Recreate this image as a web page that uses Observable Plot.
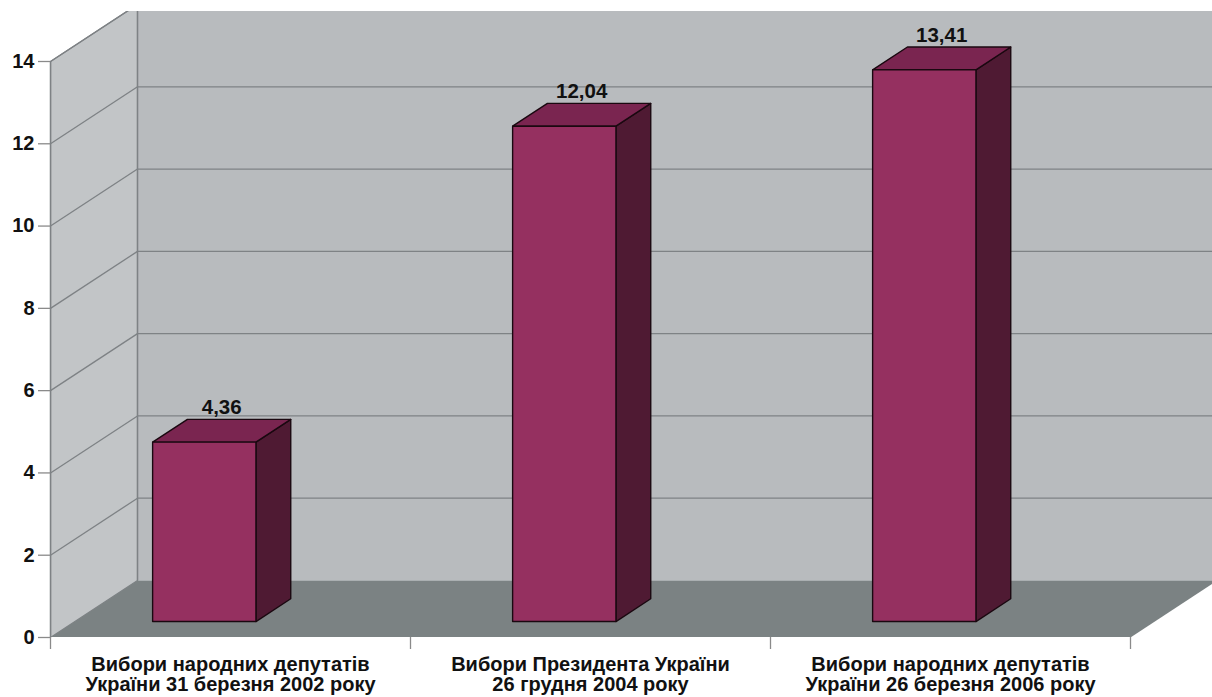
<!DOCTYPE html>
<html>
<head>
<meta charset="utf-8">
<script src="https://cdn.jsdelivr.net/npm/d3@7"></script>
<script src="https://cdn.jsdelivr.net/npm/@observablehq/plot@0.6"></script>
<style>
  html, body { margin: 0; padding: 0; background: #ffffff; }
  #chart svg { display: block; }
</style>
</head>
<body>
<div id="chart"></div>
<script>
// ---- data ----
const categories = [
  "Вибори народних депутатів\nУкраїни 31 березня 2002 року",
  "Вибори Президента України\n26 грудня 2004 року",
  "Вибори народних депутатів\nУкраїни 26 березня 2006 року"
];
const values = [4.36, 12.04, 13.41];
const valueLabels = ["4,36", "12,04", "13,41"];
const yTicks = [0, 2, 4, 6, 8, 10, 12, 14];
const categoryBoundaries = [0, 1, 2, 3];

// ---- oblique 3D projection (depth f in [0,1] shifts right and up) ----
const n = categories.length;
const yMax = 14;
const KX = 87 / 360;          // depth shift in category units
const KY = 57 * 14 / 576;     // depth shift in value units
const P = (x, y, f) => ({x: x + f * KX, y: y + f * KY});
const F0 = 0.28, F1 = 0.68;   // bar front / back depth
const BL = 0.216, BR = 0.503; // bar left / right within band

function poly(id, pts) { return pts.map(p => ({id, ...P(p[0], p[1], p[2])})); }

const backWall = poly("back", [[0,0,1],[n,0,1],[n,yMax,1],[0,yMax,1]]);
const sideWall = poly("side", [[0,0,0],[0,0,1],[0,yMax,1],[0,yMax,0]]);
const floorPoly = poly("floor", [[0,0,0],[n,0,0],[n,0,1],[0,0,1]]);

const fronts = [], tops = [], sides = [];
values.forEach((v, i) => {
  const L = i + BL, R = i + BR;
  fronts.push(...poly(i, [[L,0,F0],[R,0,F0],[R,v,F0],[L,v,F0]]));
  tops.push(...poly(i, [[L,v,F0],[R,v,F0],[R,v,F1],[L,v,F1]]));
  sides.push(...poly(i, [[R,0,F0],[R,0,F1],[R,v,F1],[R,v,F0]]));
});

const grid = yTicks.filter(t => t > 0);
const valueData = values.map((v, i) => ({
  label: valueLabels[i],
  x: i + (BL + BR) / 2 + ((F0 + F1) / 2) * KX,
  y: v + F1 * KY
}));

const gridColor = "#7e8285";
const polyOpts = (fill, stroke, sw, clip) => ({x: "x", y: "y", z: "id", curve: "linear-closed", fill, stroke, strokeWidth: sw, clip});

const chart = Plot.plot({
  width: 1212,
  height: 697,
  marginTop: 11,
  marginLeft: 50,
  marginRight: 0,
  marginBottom: 60,
  style: {fontFamily: "'Liberation Sans', Arial, sans-serif", fontSize: "20px", fontWeight: "bold", background: "#ffffff", color: "#111"},
  x: {type: "linear", domain: [0, n], range: [50, 1130], axis: null},
  y: {type: "linear", domain: [0, yMax], range: [637, 61], axis: null},
  marks: [
    // walls and floor
    Plot.line(backWall, polyOpts("#b8bbbe", "none", 0, "frame")),
    Plot.line(sideWall, polyOpts("#c2c5c7", gridColor, 1.3, "frame")),
    Plot.line(floorPoly, polyOpts("#7b8283", "none", 0, "frame")),
    // gridlines on back wall
    Plot.link(grid, {x1: t => P(0, t, 1).x, y1: t => P(0, t, 1).y, x2: t => P(n, t, 1).x, y2: t => P(n, t, 1).y, stroke: gridColor, strokeWidth: 1.3, clip: "frame"}),
    // gridlines on side wall
    Plot.link(grid, {x1: t => P(0, t, 0).x, y1: t => P(0, t, 0).y, x2: t => P(0, t, 1).x, y2: t => P(0, t, 1).y, stroke: gridColor, strokeWidth: 1.3, clip: "frame"}),
    // back wall left edge
    Plot.link([0], {x1: () => P(0, 0, 1).x, y1: () => P(0, 0, 1).y, x2: () => P(0, yMax, 1).x, y2: () => P(0, yMax, 1).y, stroke: gridColor, strokeWidth: 1.3, clip: "frame"}),
    // side wall front edge (value axis line)
    Plot.link([0], {x1: () => 0, y1: () => 0, x2: () => 0, y2: () => yMax, stroke: gridColor, strokeWidth: 1.5}),
    // bars
    Plot.line(sides, polyOpts("#4f1a33", "#1a0810", 1.4)),
    Plot.line(tops, polyOpts("#7a2550", "#1a0810", 1.4)),
    Plot.line(fronts, polyOpts("#953060", "#1a0810", 1.4)),
    // value labels
    Plot.text(valueData, {x: "x", y: "y", text: "label", lineAnchor: "bottom", dy: -5, fontSize: 20.5, fontWeight: "bold", fill: "#111"}),
    // axes
    Plot.axisY({ticks: yTicks, label: null, tickSize: 12, tickPadding: 4, stroke: "#8a8a8a", fill: "#111", fontSize: 20, fontWeight: "bold", strokeWidth: 1.3}),
    Plot.axisX({ticks: categoryBoundaries, label: null, tickSize: 12, tickFormat: () => "", stroke: "#8a8a8a", strokeWidth: 1.3}),
    // category labels
    Plot.text(categories, {x: (d, i) => i + 0.5, y: () => 0, text: d => d, lineAnchor: "top", dy: 19.5, lineHeight: 0.98, fontSize: 20, fontWeight: "bold", fill: "#111", textAnchor: "middle"})
  ]
});

document.getElementById("chart").appendChild(chart);
</script>
</body>
</html>
